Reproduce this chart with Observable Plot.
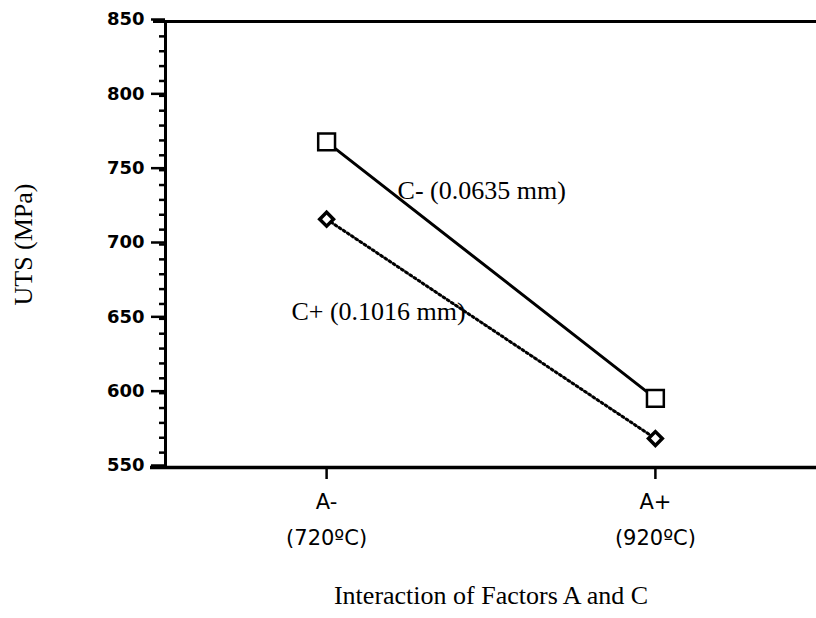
<!DOCTYPE html>
<html><head><meta charset="utf-8">
<script src="https://cdn.jsdelivr.net/npm/d3@7"></script>
<script src="https://cdn.jsdelivr.net/npm/@observablehq/plot@0.6"></script>
<style>body{margin:0;background:#fff}</style>
</head><body><div id="chart"></div>
<script>
// Factor A levels (x categories)
const factorA = ["A-", "A+"];
const factorATemp = ["(720ºC)", "(920ºC)"];
// UTS values (MPa)
const cMinusUTS = [769, 596.5];
const cPlusUTS = [717, 569.5];
const seriesNames = ["C- (0.0635 mm)", "C+ (0.1016 mm)"];
// axis ticks
const yMajorTicks = [550, 600, 650, 700, 750, 800, 850];
const yMinorTicks = d3.range(550, 851, 10);
const xTicks = [0, 1];
const yTitle = "UTS (MPa)";
const xTitle = "Interaction of Factors A and C";

const xDomain = [-0.49, 1.49];
const yDomain = [550, 850];

const cMinusRows = factorA.map((a, i) => ({i, uts: cMinusUTS[i]}));
const cPlusRows = factorA.map((a, i) => ({i, uts: cPlusUTS[i]}));

const serif = "'Liberation Serif', 'Times New Roman', serif";
const sans = "'DejaVu Sans', sans-serif";

const chart = Plot.plot({
  width: 816,
  height: 618,
  marginLeft: 165,
  marginRight: 0,
  marginTop: 21,
  marginBottom: 151,
  x: {domain: xDomain},
  y: {domain: yDomain},
  style: {background: "#fff", color: "#000"},
  marks: [
    Plot.ruleY([yDomain[0]], {stroke: "#000", strokeWidth: 3.5, insetLeft: -15}),
    Plot.ruleY([yDomain[1]], {stroke: "#000", strokeWidth: 3, insetLeft: -12}),
    Plot.ruleX([xDomain[0]], {stroke: "#000", strokeWidth: 3}),
    Plot.axisY({ticks: yMinorTicks, tickSize: 6, tickFormat: () => "", strokeWidth: 2.5, label: null}),
    Plot.axisY({ticks: yMajorTicks, tickSize: 14, tickPadding: 7, strokeWidth: 2.5, label: null,
      fontSize: 18, fontWeight: "bold", fontFamily: sans, dy: -2}),
    Plot.axisX({ticks: xTicks, tickSize: 12, tickPadding: 4, strokeWidth: 2.5, label: null,
      tickFormat: (d) => factorA[d] + "\n" + factorATemp[d], fontSize: 21, fontFamily: sans, lineHeight: 1.7}),
    Plot.text([yTitle], {frameAnchor: "left", textAnchor: "middle", lineAnchor: "middle", rotate: -90, dx: -142, fontSize: 26, fontFamily: serif}),
    Plot.text([xTitle], {frameAnchor: "bottom", dy: 136, fontSize: 26, fontFamily: serif}),
    Plot.line(cMinusRows, {x: "i", y: "uts", stroke: "#000", strokeWidth: 3}),
    Plot.line(cPlusRows, {x: "i", y: "uts", stroke: "#000", strokeWidth: 3, strokeDasharray: "2,3"}),
    Plot.dot(cMinusRows, {x: "i", y: "uts", symbol: "square", r: 9.5, fill: "#fff", stroke: "#000", strokeWidth: 2.5}),
    Plot.dot(cPlusRows, {x: "i", y: "uts", symbol: "square", r: 5.5, rotate: 45, fill: "#fff", stroke: "#000", strokeWidth: 3.5}),
    Plot.text([seriesNames[0]], {x: 0.216, y: 736, textAnchor: "start", fontSize: 26, fontFamily: serif}),
    Plot.text([seriesNames[1]], {x: -0.107, y: 655, textAnchor: "start", fontSize: 26, fontFamily: serif})
  ]
});
document.getElementById("chart").append(chart);
</script>
</body></html>
